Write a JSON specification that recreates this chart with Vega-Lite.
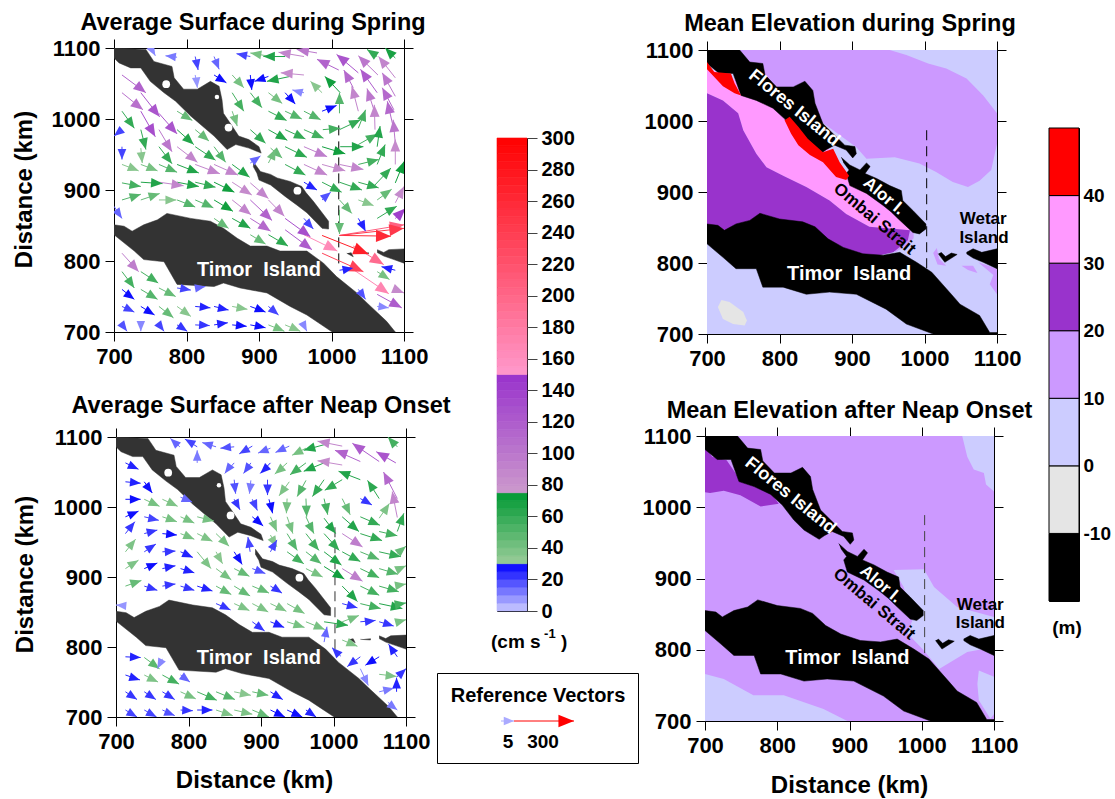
{"$schema":"https://vega.github.io/schema/vega-lite/v6.json","autosize":"none","padding":{"left":114,"top":48,"right":1001,"bottom":751},"background":"white","bounds":"flush","spacing":0,
"config":{"view":{"stroke":null},"font":"Liberation Sans","axis":{"grid":false,"domainColor":"black","tickColor":"black","tickSize":9,"labelFont":"Liberation Sans","labelFontWeight":"bold","labelFontSize":22,"labelColor":"black","labelPadding":5,"titleFont":"Liberation Sans","titleFontWeight":"bold","titleFontSize":24,"titleColor":"black","labelOverlap":false,"labelFlush":false,"format":"d","zindex":1},"title":{"font":"Liberation Sans","fontWeight":"bold","fontSize":23.5,"color":"black"}},
"datasets":{
"landA":[{"p":"F","o":1,"x":700,"y":1100},{"p":"F","o":2,"x":744,"y":1098},{"p":"F","o":3,"x":755,"y":1081},{"p":"F","o":4,"x":780,"y":1074},{"p":"F","o":5,"x":783,"y":1058},{"p":"F","o":6,"x":796,"y":1042},{"p":"F","o":7,"x":815,"y":1042},{"p":"F","o":8,"x":833,"y":1053},{"p":"F","o":9,"x":845,"y":1046},{"p":"F","o":10,"x":849,"y":1027},{"p":"F","o":11,"x":851,"y":1008},{"p":"F","o":12,"x":863,"y":990},{"p":"F","o":13,"x":872,"y":976},{"p":"F","o":14,"x":886,"y":971},{"p":"F","o":15,"x":900,"y":961},{"p":"F","o":16,"x":903,"y":952},{"p":"F","o":17,"x":886,"y":959},{"p":"F","o":18,"x":868,"y":964},{"p":"F","o":19,"x":856,"y":957},{"p":"F","o":20,"x":838,"y":976},{"p":"F","o":21,"x":806,"y":1004},{"p":"F","o":22,"x":785,"y":1025},{"p":"F","o":23,"x":769,"y":1037},{"p":"F","o":24,"x":750,"y":1053},{"p":"F","o":25,"x":737,"y":1072},{"p":"F","o":26,"x":723,"y":1072},{"p":"F","o":27,"x":707,"y":1079},{"p":"F","o":28,"x":700,"y":1086},
{"p":"L","o":1,"x":892,"y":940},{"p":"L","o":2,"x":902,"y":926},{"p":"L","o":3,"x":916,"y":922},{"p":"L","o":4,"x":925,"y":917},{"p":"L","o":5,"x":943,"y":912},{"p":"L","o":6,"x":959,"y":905},{"p":"L","o":7,"x":965,"y":896},{"p":"L","o":8,"x":975,"y":884},{"p":"L","o":9,"x":996,"y":856},{"p":"L","o":10,"x":996,"y":845},{"p":"L","o":11,"x":987,"y":846},{"p":"L","o":12,"x":966,"y":868},{"p":"L","o":13,"x":952,"y":879},{"p":"L","o":14,"x":936,"y":891},{"p":"L","o":15,"x":916,"y":907},{"p":"L","o":16,"x":900,"y":914},{"p":"L","o":17,"x":897,"y":924},{"p":"L","o":18,"x":892,"y":933},
{"p":"T","o":1,"x":700,"y":851},{"p":"T","o":2,"x":714,"y":849},{"p":"T","o":3,"x":725,"y":842},{"p":"T","o":4,"x":741,"y":851},{"p":"T","o":5,"x":760,"y":858},{"p":"T","o":6,"x":773,"y":867},{"p":"T","o":7,"x":806,"y":860},{"p":"T","o":8,"x":833,"y":856},{"p":"T","o":9,"x":851,"y":846},{"p":"T","o":10,"x":870,"y":832},{"p":"T","o":11,"x":888,"y":821},{"p":"T","o":12,"x":911,"y":821},{"p":"T","o":13,"x":929,"y":814},{"p":"T","o":14,"x":966,"y":814},{"p":"T","o":15,"x":989,"y":797},{"p":"T","o":16,"x":1007,"y":778},{"p":"T","o":17,"x":1035,"y":755},{"p":"T","o":18,"x":1049,"y":741},{"p":"T","o":19,"x":1076,"y":715},{"p":"T","o":20,"x":1088,"y":700},{"p":"T","o":21,"x":1001,"y":700},{"p":"T","o":22,"x":982,"y":713},{"p":"T","o":23,"x":966,"y":724},{"p":"T","o":24,"x":943,"y":736},{"p":"T","o":25,"x":911,"y":755},{"p":"T","o":26,"x":874,"y":762},{"p":"T","o":27,"x":851,"y":769},{"p":"T","o":28,"x":838,"y":764},{"p":"T","o":29,"x":787,"y":767},{"p":"T","o":30,"x":769,"y":799},{"p":"T","o":31,"x":741,"y":802},{"p":"T","o":32,"x":728,"y":814},{"p":"T","o":33,"x":700,"y":837},
{"p":"W","o":1,"x":1063,"y":816},{"p":"W","o":2,"x":1072,"y":812},{"p":"W","o":3,"x":1079,"y":816},{"p":"W","o":4,"x":1100,"y":817},{"p":"W","o":5,"x":1100,"y":797},{"p":"W","o":6,"x":1086,"y":802},{"p":"W","o":7,"x":1072,"y":807},{"p":"W","o":8,"x":1063,"y":812},
{"p":"S","o":1,"x":1021,"y":811},{"p":"S","o":2,"x":1030,"y":806},{"p":"S","o":3,"x":1027,"y":812},
{"p":"U","o":1,"x":1037,"y":811},{"p":"U","o":2,"x":1051,"y":810},{"p":"U","o":3,"x":1051,"y":812}],
"holes":[{"x":772,"y":1049},{"x":858,"y":988},{"x":953,"y":899}],
"holesSmall":[{"x":842,"y":1031}],
"landE":[{"p":"F","o":1,"x":700,"y":1100},{"p":"F","o":2,"x":745,"y":1100},{"p":"F","o":3,"x":759,"y":1083},{"p":"F","o":4,"x":777,"y":1081},{"p":"F","o":5,"x":780,"y":1065},{"p":"F","o":6,"x":796,"y":1048},{"p":"F","o":7,"x":819,"y":1048},{"p":"F","o":8,"x":835,"y":1056},{"p":"F","o":9,"x":846,"y":1043},{"p":"F","o":10,"x":849,"y":1025},{"p":"F","o":11,"x":860,"y":996},{"p":"F","o":12,"x":874,"y":982},{"p":"F","o":13,"x":890,"y":966},{"p":"F","o":14,"x":904,"y":964},{"p":"F","o":15,"x":906,"y":954},{"p":"F","o":16,"x":901,"y":948},{"p":"F","o":17,"x":892,"y":959},{"p":"F","o":18,"x":876,"y":966},{"p":"F","o":19,"x":865,"y":960},{"p":"F","o":20,"x":858,"y":955},{"p":"F","o":21,"x":837,"y":968},{"p":"F","o":22,"x":823,"y":982},{"p":"F","o":23,"x":807,"y":1003},{"p":"F","o":24,"x":791,"y":1018},{"p":"F","o":25,"x":768,"y":1029},{"p":"F","o":26,"x":747,"y":1036},{"p":"F","o":27,"x":736,"y":1067},{"p":"F","o":28,"x":717,"y":1067},{"p":"F","o":29,"x":700,"y":1081},
{"p":"L","o":1,"x":885,"y":949},{"p":"L","o":2,"x":897,"y":938},{"p":"L","o":3,"x":911,"y":931},{"p":"L","o":4,"x":920,"y":941},{"p":"L","o":5,"x":925,"y":936},{"p":"L","o":6,"x":918,"y":926},{"p":"L","o":7,"x":934,"y":919},{"p":"L","o":8,"x":952,"y":909},{"p":"L","o":9,"x":968,"y":902},{"p":"L","o":10,"x":970,"y":888},{"p":"L","o":11,"x":984,"y":874},{"p":"L","o":12,"x":1002,"y":855},{"p":"L","o":13,"x":1002,"y":848},{"p":"L","o":14,"x":993,"y":841},{"p":"L","o":15,"x":984,"y":843},{"p":"L","o":16,"x":964,"y":862},{"p":"L","o":17,"x":954,"y":872},{"p":"L","o":18,"x":943,"y":881},{"p":"L","o":19,"x":920,"y":898},{"p":"L","o":20,"x":897,"y":909},{"p":"L","o":21,"x":892,"y":926},{"p":"L","o":22,"x":896,"y":931},{"p":"L","o":23,"x":888,"y":942},
{"p":"T","o":1,"x":700,"y":855},{"p":"T","o":2,"x":715,"y":853},{"p":"T","o":3,"x":724,"y":846},{"p":"T","o":4,"x":740,"y":855},{"p":"T","o":5,"x":759,"y":860},{"p":"T","o":6,"x":773,"y":870},{"p":"T","o":7,"x":800,"y":862},{"p":"T","o":8,"x":832,"y":858},{"p":"T","o":9,"x":849,"y":851},{"p":"T","o":10,"x":867,"y":834},{"p":"T","o":11,"x":888,"y":822},{"p":"T","o":12,"x":915,"y":813},{"p":"T","o":13,"x":943,"y":811},{"p":"T","o":14,"x":966,"y":815},{"p":"T","o":15,"x":989,"y":801},{"p":"T","o":16,"x":1010,"y":787},{"p":"T","o":17,"x":1037,"y":756},{"p":"T","o":18,"x":1049,"y":742},{"p":"T","o":19,"x":1076,"y":726},{"p":"T","o":20,"x":1090,"y":702},{"p":"T","o":21,"x":1100,"y":702},{"p":"T","o":22,"x":1100,"y":700},{"p":"T","o":23,"x":1012,"y":700},{"p":"T","o":24,"x":975,"y":714},{"p":"T","o":25,"x":947,"y":735},{"p":"T","o":26,"x":906,"y":756},{"p":"T","o":27,"x":869,"y":759},{"p":"T","o":28,"x":837,"y":756},{"p":"T","o":29,"x":805,"y":766},{"p":"T","o":30,"x":777,"y":766},{"p":"T","o":31,"x":768,"y":792},{"p":"T","o":32,"x":740,"y":792},{"p":"T","o":33,"x":722,"y":808},{"p":"T","o":34,"x":700,"y":827},
{"p":"W","o":1,"x":1058,"y":815},{"p":"W","o":2,"x":1067,"y":820},{"p":"W","o":3,"x":1079,"y":815},{"p":"W","o":4,"x":1100,"y":820},{"p":"W","o":5,"x":1100,"y":792},{"p":"W","o":6,"x":1081,"y":801},{"p":"W","o":7,"x":1067,"y":807},{"p":"W","o":8,"x":1058,"y":813},
{"p":"V","o":1,"x":1019,"y":813},{"p":"V","o":2,"x":1028,"y":801},{"p":"V","o":3,"x":1045,"y":812},{"p":"V","o":4,"x":1037,"y":814},{"p":"V","o":5,"x":1029,"y":809},{"p":"V","o":6,"x":1023,"y":815}],
"bandB":[{"p":1,"l":5,"o":1,"x":700,"y":700},{"p":1,"l":5,"o":2,"x":1100,"y":700},{"p":1,"l":5,"o":3,"x":1100,"y":1100},{"p":1,"l":5,"o":4,"x":700,"y":1100},
{"p":2,"l":15,"o":1,"x":745,"y":1100},{"p":2,"l":15,"o":2,"x":952,"y":1100},{"p":2,"l":15,"o":3,"x":975,"y":1093},{"p":2,"l":15,"o":4,"x":1005,"y":1081},{"p":2,"l":15,"o":5,"x":1030,"y":1074},{"p":2,"l":15,"o":6,"x":1058,"y":1060},{"p":2,"l":15,"o":7,"x":1081,"y":1036},{"p":2,"l":15,"o":8,"x":1100,"y":1011},{"p":2,"l":15,"o":9,"x":1100,"y":968},{"p":2,"l":15,"o":10,"x":1092,"y":931},{"p":2,"l":15,"o":11,"x":1076,"y":916},{"p":2,"l":15,"o":12,"x":1060,"y":907},{"p":2,"l":15,"o":13,"x":1039,"y":914},{"p":2,"l":15,"o":14,"x":1016,"y":928},{"p":2,"l":15,"o":15,"x":993,"y":940},{"p":2,"l":15,"o":16,"x":959,"y":949},{"p":2,"l":15,"o":17,"x":920,"y":947},{"p":2,"l":15,"o":18,"x":906,"y":963},{"p":2,"l":15,"o":19,"x":874,"y":987},{"p":2,"l":15,"o":20,"x":745,"y":1081},
{"p":3,"l":15,"o":1,"x":964,"y":862},{"p":3,"l":15,"o":2,"x":985,"y":845},{"p":3,"l":15,"o":3,"x":985,"y":835},{"p":3,"l":15,"o":4,"x":975,"y":825},{"p":3,"l":15,"o":5,"x":960,"y":815},{"p":3,"l":15,"o":6,"x":950,"y":830},
{"p":4,"l":15,"o":1,"x":1012,"y":814},{"p":4,"l":15,"o":2,"x":1017,"y":821},{"p":4,"l":15,"o":3,"x":1020,"y":806},{"p":4,"l":15,"o":4,"x":1030,"y":796},{"p":4,"l":15,"o":5,"x":1018,"y":798},
{"p":5,"l":15,"o":1,"x":1051,"y":796},{"p":5,"l":15,"o":2,"x":1067,"y":796},{"p":5,"l":15,"o":3,"x":1073,"y":786},{"p":5,"l":15,"o":4,"x":1060,"y":790},
{"p":6,"l":15,"o":1,"x":1074,"y":801},{"p":6,"l":15,"o":2,"x":1100,"y":792},{"p":6,"l":15,"o":3,"x":1100,"y":756},{"p":6,"l":15,"o":4,"x":1090,"y":770},{"p":6,"l":15,"o":5,"x":1095,"y":783},
{"p":7,"l":-5,"o":1,"x":715,"y":738},{"p":7,"l":-5,"o":2,"x":720,"y":748},{"p":7,"l":-5,"o":3,"x":731,"y":745},{"p":7,"l":-5,"o":4,"x":750,"y":731},{"p":7,"l":-5,"o":5,"x":755,"y":719},{"p":7,"l":-5,"o":6,"x":752,"y":712},{"p":7,"l":-5,"o":7,"x":736,"y":714},{"p":7,"l":-5,"o":8,"x":722,"y":721},
{"p":8,"l":35,"o":1,"x":700,"y":1075},{"p":8,"l":35,"o":2,"x":800,"y":1030},{"p":8,"l":35,"o":3,"x":860,"y":970},{"p":8,"l":35,"o":4,"x":895,"y":925},{"p":8,"l":35,"o":5,"x":943,"y":886},{"p":8,"l":35,"o":6,"x":985,"y":848},{"p":8,"l":35,"o":7,"x":980,"y":846},{"p":8,"l":35,"o":8,"x":924,"y":851},{"p":8,"l":35,"o":9,"x":892,"y":869},{"p":8,"l":35,"o":10,"x":869,"y":888},{"p":8,"l":35,"o":11,"x":837,"y":907},{"p":8,"l":35,"o":12,"x":805,"y":923},{"p":8,"l":35,"o":13,"x":782,"y":935},{"p":8,"l":35,"o":14,"x":768,"y":954},{"p":8,"l":35,"o":15,"x":750,"y":987},{"p":8,"l":35,"o":16,"x":743,"y":1011},{"p":8,"l":35,"o":17,"x":722,"y":1029},{"p":8,"l":35,"o":18,"x":700,"y":1039},
{"p":9,"l":25,"o":1,"x":700,"y":1039},{"p":9,"l":25,"o":2,"x":722,"y":1029},{"p":9,"l":25,"o":3,"x":743,"y":1011},{"p":9,"l":25,"o":4,"x":750,"y":987},{"p":9,"l":25,"o":5,"x":768,"y":954},{"p":9,"l":25,"o":6,"x":782,"y":935},{"p":9,"l":25,"o":7,"x":805,"y":923},{"p":9,"l":25,"o":8,"x":837,"y":907},{"p":9,"l":25,"o":9,"x":869,"y":888},{"p":9,"l":25,"o":10,"x":892,"y":869},{"p":9,"l":25,"o":11,"x":924,"y":851},{"p":9,"l":25,"o":12,"x":980,"y":846},{"p":9,"l":25,"o":13,"x":977,"y":832},{"p":9,"l":25,"o":14,"x":957,"y":815},{"p":9,"l":25,"o":15,"x":934,"y":810},{"p":9,"l":25,"o":16,"x":900,"y":800},{"p":9,"l":25,"o":17,"x":700,"y":830}],
"redB":[{"p":1,"l":45,"o":1,"x":700,"y":1083},{"p":1,"l":45,"o":2,"x":710,"y":1069},{"p":1,"l":45,"o":3,"x":733,"y":1067},{"p":1,"l":45,"o":4,"x":738,"y":1053},{"p":1,"l":45,"o":5,"x":747,"y":1036},{"p":1,"l":45,"o":6,"x":738,"y":1039},{"p":1,"l":45,"o":7,"x":722,"y":1049},{"p":1,"l":45,"o":8,"x":700,"y":1073},
{"p":2,"l":45,"o":1,"x":807,"y":1001},{"p":2,"l":45,"o":2,"x":814,"y":1006},{"p":2,"l":45,"o":3,"x":826,"y":992},{"p":2,"l":45,"o":4,"x":839,"y":975},{"p":2,"l":45,"o":5,"x":860,"y":956},{"p":2,"l":45,"o":6,"x":874,"y":961},{"p":2,"l":45,"o":7,"x":883,"y":942},{"p":2,"l":45,"o":8,"x":896,"y":923},{"p":2,"l":45,"o":9,"x":892,"y":917},{"p":2,"l":45,"o":10,"x":878,"y":921},{"p":2,"l":45,"o":11,"x":860,"y":942},{"p":2,"l":45,"o":12,"x":842,"y":952},{"p":2,"l":45,"o":13,"x":826,"y":966},{"p":2,"l":45,"o":14,"x":816,"y":982}],
"bandD":[{"p":1,"l":15,"o":1,"x":700,"y":700},{"p":1,"l":15,"o":2,"x":1100,"y":700},{"p":1,"l":15,"o":3,"x":1100,"y":1100},{"p":1,"l":15,"o":4,"x":700,"y":1100},
{"p":2,"l":5,"o":1,"x":1056,"y":1100},{"p":2,"l":5,"o":2,"x":1100,"y":1100},{"p":2,"l":5,"o":3,"x":1100,"y":1022},{"p":2,"l":5,"o":4,"x":1089,"y":1032},{"p":2,"l":5,"o":5,"x":1086,"y":1048},{"p":2,"l":5,"o":6,"x":1072,"y":1053},{"p":2,"l":5,"o":7,"x":1063,"y":1071},
{"p":3,"l":5,"o":1,"x":961,"y":912},{"p":3,"l":5,"o":2,"x":1003,"y":913},{"p":3,"l":5,"o":3,"x":1017,"y":888},{"p":3,"l":5,"o":4,"x":1049,"y":860},{"p":3,"l":5,"o":5,"x":1100,"y":846},{"p":3,"l":5,"o":6,"x":1100,"y":804},{"p":3,"l":5,"o":7,"x":1063,"y":797},{"p":3,"l":5,"o":8,"x":1024,"y":773},{"p":3,"l":5,"o":9,"x":1003,"y":799},{"p":3,"l":5,"o":10,"x":980,"y":823},{"p":3,"l":5,"o":11,"x":987,"y":841},{"p":3,"l":5,"o":12,"x":975,"y":888},
{"p":4,"l":5,"o":1,"x":1077,"y":752},{"p":4,"l":5,"o":2,"x":1079,"y":771},{"p":4,"l":5,"o":3,"x":1100,"y":762},{"p":4,"l":5,"o":4,"x":1100,"y":710},{"p":4,"l":5,"o":5,"x":1095,"y":703},{"p":4,"l":5,"o":6,"x":1079,"y":729},
{"p":5,"l":5,"o":1,"x":700,"y":766},{"p":5,"l":5,"o":2,"x":726,"y":759},{"p":5,"l":5,"o":3,"x":767,"y":736},{"p":5,"l":5,"o":4,"x":809,"y":736},{"p":5,"l":5,"o":5,"x":864,"y":717},{"p":5,"l":5,"o":6,"x":897,"y":700},{"p":5,"l":5,"o":7,"x":700,"y":700},
{"p":6,"l":25,"o":1,"x":700,"y":1085},{"p":6,"l":25,"o":2,"x":710,"y":1071},{"p":6,"l":25,"o":3,"x":730,"y":1066},{"p":6,"l":25,"o":4,"x":749,"y":1038},{"p":6,"l":25,"o":5,"x":772,"y":1031},{"p":6,"l":25,"o":6,"x":793,"y":1018},{"p":6,"l":25,"o":7,"x":802,"y":1005},{"p":6,"l":25,"o":8,"x":777,"y":1001},{"p":6,"l":25,"o":9,"x":749,"y":1017},{"p":6,"l":25,"o":10,"x":726,"y":1023},{"p":6,"l":25,"o":11,"x":707,"y":1020},{"p":6,"l":25,"o":12,"x":700,"y":1021}],
"arrowsA":[{"x":753,"y":1098,"a":757,"b":1089,"d":151,"s":10},{"x":787,"y":1087,"a":771,"b":1089,"d":277,"s":12},{"x":888,"y":1088,"a":869,"b":1092,"d":281,"s":20},{"x":916,"y":1088,"a":888,"b":1093,"d":280,"s":40},{"x":936,"y":1088,"a":906,"b":1088,"d":270,"s":65},{"x":962,"y":1088,"a":927,"b":1094,"d":279,"s":90},{"x":980,"y":1093,"a":952,"b":1098,"d":280,"s":100},{"x":1010,"y":1069,"a":980,"b":1084,"d":296,"s":115},{"x":1037,"y":1065,"a":1007,"b":1091,"d":309,"s":125},{"x":1064,"y":1062,"a":1037,"b":1089,"d":315,"s":100},{"x":1088,"y":1058,"a":1065,"b":1088,"d":322,"s":90},{"x":1063,"y":1088,"a":1049,"b":1098,"d":304,"s":60},{"x":1088,"y":1086,"a":1074,"b":1100,"d":315,"s":68},
{"x":812,"y":1088,"a":816,"b":1069,"d":169,"s":20},{"x":838,"y":1088,"a":845,"b":1070,"d":158,"s":15},{"x":812,"y":1062,"a":815,"b":1044,"d":173,"s":8},{"x":838,"y":1062,"a":855,"b":1051,"d":121,"s":28},{"x":863,"y":1062,"a":879,"b":1044,"d":139,"s":40},{"x":888,"y":1062,"a":890,"b":1041,"d":174,"s":28},{"x":913,"y":1060,"a":894,"b":1053,"d":251,"s":28},{"x":962,"y":1062,"a":930,"b":1065,"d":274,"s":85},{"x":943,"y":1060,"a":911,"b":1053,"d":258,"s":65},{"x":1030,"y":1044,"a":1017,"b":1069,"d":331,"s":110},{"x":1063,"y":1037,"a":1040,"b":1070,"d":325,"s":120},{"x":1088,"y":1032,"a":1070,"b":1065,"d":330,"s":100},
{"x":962,"y":1037,"a":946,"b":1041,"d":286,"s":10},{"x":987,"y":1037,"a":971,"b":1053,"d":315,"s":35},{"x":1012,"y":1037,"a":991,"b":1060,"d":318,"s":70},{"x":1037,"y":1011,"a":1028,"b":1046,"d":345,"s":90},{"x":1060,"y":1008,"a":1049,"b":1043,"d":342,"s":100},{"x":1086,"y":1013,"a":1070,"b":1044,"d":332,"s":110},{"x":863,"y":1037,"a":879,"b":1011,"d":148,"s":55},{"x":888,"y":1037,"a":904,"b":1016,"d":142,"s":55},{"x":913,"y":1037,"a":932,"b":1022,"d":129,"s":40},{"x":936,"y":1037,"a":950,"b":1021,"d":139,"s":28},{"x":987,"y":1011,"a":1007,"b":1019,"d":68,"s":28},{"x":1011,"y":1008,"a":1011,"b":1037,"d":0,"s":50},
{"x":711,"y":1062,"a":744,"b":1037,"d":128,"s":115},{"x":737,"y":1037,"a":763,"b":1003,"d":141,"s":125},{"x":711,"y":1037,"a":740,"b":1013,"d":128,"s":105},{"x":762,"y":1008,"a":787,"b":979,"d":138,"s":125},{"x":737,"y":1011,"a":757,"b":975,"d":150,"s":130},{"x":711,"y":1011,"a":728,"b":987,"d":145,"s":60},{"x":787,"y":1011,"a":808,"b":998,"d":121,"s":45},{"x":863,"y":1011,"a":870,"b":990,"d":162,"s":40},{"x":913,"y":1011,"a":938,"b":998,"d":117,"s":60},{"x":936,"y":1011,"a":959,"b":1000,"d":115,"s":50},{"x":962,"y":1011,"a":985,"b":999,"d":117,"s":50},{"x":1011,"y":985,"a":1040,"b":999,"d":64,"s":60},{"x":1037,"y":987,"a":1047,"b":1013,"d":20,"s":55},{"x":1060,"y":985,"a":1059,"b":1020,"d":358,"s":90},{"x":1086,"y":985,"a":1077,"b":1025,"d":348,"s":110},{"x":1088,"y":966,"a":1085,"b":999,"d":354,"s":100},{"x":1088,"y":936,"a":1088,"b":971,"d":0,"s":85},
{"x":737,"y":985,"a":744,"b":957,"d":166,"s":60},{"x":711,"y":961,"a":711,"b":943,"d":180,"s":20},{"x":711,"y":985,"a":700,"b":976,"d":231,"s":20},{"x":762,"y":985,"a":780,"b":954,"d":148,"s":100},{"x":787,"y":985,"a":810,"b":964,"d":132,"s":65},{"x":812,"y":985,"a":831,"b":969,"d":131,"s":45},{"x":888,"y":985,"a":909,"b":966,"d":132,"s":60},{"x":913,"y":985,"a":939,"b":970,"d":120,"s":65},{"x":936,"y":985,"a":964,"b":972,"d":115,"s":60},{"x":962,"y":985,"a":989,"b":973,"d":113,"s":55},{"x":988,"y":985,"a":1012,"b":987,"d":84,"s":55},{"x":1012,"y":961,"a":1044,"b":961,"d":90,"s":65},{"x":1037,"y":964,"a":1063,"b":979,"d":59,"s":55},{"x":1063,"y":961,"a":1067,"b":990,"d":9,"s":65},{"x":1063,"y":936,"a":1074,"b":964,"d":23,"s":60},
{"x":737,"y":959,"a":739,"b":938,"d":174,"s":35},{"x":762,"y":961,"a":780,"b":937,"d":142,"s":60},{"x":787,"y":961,"a":815,"b":939,"d":129,"s":90},{"x":812,"y":961,"a":840,"b":942,"d":125,"s":60},{"x":838,"y":961,"a":854,"b":939,"d":143,"s":50},{"x":936,"y":961,"a":966,"b":946,"d":115,"s":62},{"x":962,"y":961,"a":994,"b":947,"d":112,"s":95},{"x":987,"y":961,"a":1019,"b":951,"d":106,"s":70},{"x":916,"y":959,"a":932,"b":945,"d":131,"s":45},{"x":913,"y":938,"a":923,"b":958,"d":25,"s":42},{"x":888,"y":938,"a":902,"b":948,"d":54,"s":15},
{"x":711,"y":936,"a":734,"b":927,"d":112,"s":35},{"x":737,"y":936,"a":760,"b":927,"d":112,"s":40},{"x":762,"y":936,"a":787,"b":925,"d":113,"s":50},{"x":787,"y":936,"a":817,"b":924,"d":111,"s":65},{"x":812,"y":936,"a":846,"b":923,"d":110,"s":90},{"x":838,"y":936,"a":871,"b":921,"d":114,"s":90},{"x":863,"y":936,"a":887,"b":918,"d":127,"s":65},{"x":936,"y":936,"a":964,"b":921,"d":118,"s":60},{"x":962,"y":936,"a":994,"b":921,"d":115,"s":90},{"x":987,"y":936,"a":1019,"b":927,"d":106,"s":85},{"x":1011,"y":936,"a":1044,"b":929,"d":102,"s":90},{"x":1037,"y":936,"a":1065,"b":943,"d":76,"s":55},{"x":1058,"y":905,"a":1082,"b":931,"d":43,"s":60},{"x":1088,"y":910,"a":1100,"b":940,"d":21,"s":70},
{"x":711,"y":910,"a":737,"b":905,"d":100,"s":55},{"x":737,"y":911,"a":767,"b":909,"d":94,"s":65},{"x":762,"y":911,"a":796,"b":906,"d":98,"s":90},{"x":787,"y":911,"a":817,"b":905,"d":100,"s":65},{"x":812,"y":911,"a":840,"b":904,"d":103,"s":60},{"x":838,"y":911,"a":866,"b":897,"d":116,"s":70},{"x":863,"y":911,"a":890,"b":893,"d":123,"s":85},{"x":888,"y":910,"a":913,"b":888,"d":130,"s":90},{"x":962,"y":911,"a":980,"b":900,"d":119,"s":25},{"x":987,"y":911,"a":1014,"b":897,"d":116,"s":60},{"x":1011,"y":911,"a":1042,"b":900,"d":110,"s":60},{"x":1037,"y":911,"a":1065,"b":903,"d":106,"s":60},{"x":1063,"y":886,"a":1083,"b":901,"d":55,"s":45},{"x":1088,"y":882,"a":1100,"b":905,"d":27,"s":85},{"x":987,"y":886,"a":999,"b":897,"d":50,"s":18},
{"x":711,"y":886,"a":737,"b":894,"d":73,"s":50},{"x":737,"y":886,"a":763,"b":895,"d":73,"s":45},{"x":762,"y":886,"a":786,"b":886,"d":90,"s":35},{"x":787,"y":886,"a":812,"b":876,"d":113,"s":50},{"x":812,"y":886,"a":837,"b":875,"d":115,"s":50},{"x":838,"y":886,"a":864,"b":870,"d":122,"s":70},{"x":863,"y":886,"a":889,"b":865,"d":128,"s":90},{"x":888,"y":886,"a":918,"b":857,"d":134,"s":115},{"x":913,"y":886,"a":935,"b":863,"d":137,"s":90},{"x":1011,"y":886,"a":1028,"b":867,"d":139,"s":45},{"x":1037,"y":886,"a":1058,"b":878,"d":111,"s":35},{"x":1063,"y":860,"a":1090,"b":877,"d":60,"s":60},{"x":1088,"y":860,"a":1102,"b":874,"d":45,"s":140},
{"x":700,"y":877,"a":711,"b":860,"d":145,"s":15},{"x":838,"y":860,"a":858,"b":846,"d":124,"s":45},{"x":863,"y":860,"a":888,"b":846,"d":120,"s":65},{"x":888,"y":860,"a":916,"b":842,"d":124,"s":110},{"x":936,"y":860,"a":971,"b":834,"d":127,"s":130},{"x":962,"y":860,"a":975,"b":845,"d":137,"s":20},{"x":1011,"y":872,"a":1011,"b":838,"d":180,"s":45},{"x":1037,"y":860,"a":1047,"b":842,"d":153,"s":25},{"x":1011,"y":836,"a":1082,"b":835,"d":91,"s":260},{"x":1011,"y":836,"a":1100,"b":851,"d":80,"s":205},{"x":1011,"y":836,"a":1100,"b":846,"d":83,"s":245},
{"x":888,"y":837,"a":909,"b":824,"d":121,"s":45},{"x":913,"y":837,"a":940,"b":821,"d":122,"s":62},{"x":936,"y":844,"a":973,"b":816,"d":127,"s":120},{"x":962,"y":837,"a":1008,"b":814,"d":117,"s":165},{"x":987,"y":836,"a":1051,"b":810,"d":111,"s":270},{"x":987,"y":811,"a":1044,"b":785,"d":114,"s":235},{"x":1030,"y":821,"a":1072,"b":795,"d":121,"s":195},{"x":1088,"y":787,"a":1069,"b":792,"d":284,"s":25},{"x":1011,"y":787,"a":1030,"b":790,"d":80,"s":25},{"x":1063,"y":785,"a":1080,"b":774,"d":123,"s":40},
{"x":711,"y":811,"a":734,"b":785,"d":138,"s":95},{"x":711,"y":785,"a":728,"b":762,"d":145,"s":55},{"x":737,"y":785,"a":761,"b":769,"d":124,"s":55},{"x":762,"y":762,"a":785,"b":750,"d":117,"s":45},{"x":711,"y":760,"a":728,"b":746,"d":127,"s":28},{"x":737,"y":760,"a":760,"b":746,"d":121,"s":50},{"x":787,"y":762,"a":806,"b":759,"d":100,"s":20},{"x":812,"y":762,"a":826,"b":764,"d":80,"s":15},{"x":1030,"y":788,"a":1079,"b":754,"d":125,"s":170},{"x":1037,"y":760,"a":1047,"b":746,"d":145,"s":18},{"x":1063,"y":753,"a":1097,"b":734,"d":118,"s":120},{"x":1063,"y":736,"a":1079,"b":734,"d":98,"s":10},{"x":1088,"y":760,"a":1100,"b":755,"d":112,"s":85},
{"x":711,"y":736,"a":728,"b":728,"d":116,"s":20},{"x":737,"y":736,"a":756,"b":724,"d":121,"s":28},{"x":762,"y":736,"a":782,"b":720,"d":129,"s":45},{"x":787,"y":736,"a":806,"b":722,"d":126,"s":35},{"x":812,"y":736,"a":833,"b":734,"d":96,"s":25},{"x":838,"y":736,"a":858,"b":731,"d":102,"s":25},{"x":863,"y":736,"a":884,"b":732,"d":100,"s":35},{"x":888,"y":736,"a":909,"b":728,"d":112,"s":28},{"x":913,"y":736,"a":927,"b":724,"d":130,"s":20},{"x":711,"y":710,"a":718,"b":701,"d":143,"s":18},{"x":737,"y":710,"a":737,"b":701,"d":180,"s":10},{"x":762,"y":710,"a":769,"b":701,"d":143,"s":20},{"x":787,"y":710,"a":801,"b":701,"d":124,"s":22},{"x":812,"y":710,"a":832,"b":709,"d":94,"s":22},{"x":838,"y":710,"a":857,"b":713,"d":83,"s":25},{"x":863,"y":710,"a":883,"b":708,"d":97,"s":28},{"x":888,"y":710,"a":909,"b":706,"d":102,"s":28},{"x":913,"y":710,"a":935,"b":701,"d":113,"s":40},{"x":936,"y":710,"a":957,"b":701,"d":114,"s":35},{"x":962,"y":710,"a":966,"b":701,"d":153,"s":10}],
"arrowsC":[{"x":788,"y":1086,"a":775,"b":1098,"d":313,"s":15},{"x":812,"y":1086,"a":795,"b":1097,"d":300,"s":20},{"x":838,"y":1086,"a":819,"b":1092,"d":287,"s":15},{"x":863,"y":1086,"a":844,"b":1084,"d":263,"s":18},{"x":888,"y":1087,"a":870,"b":1076,"d":240,"s":20},{"x":913,"y":1084,"a":896,"b":1077,"d":248,"s":15},{"x":939,"y":1087,"a":920,"b":1078,"d":245,"s":15},{"x":962,"y":1084,"a":943,"b":1074,"d":243,"s":40},{"x":987,"y":1089,"a":959,"b":1081,"d":254,"s":65},{"x":1012,"y":1087,"a":978,"b":1094,"d":280,"s":90},{"x":1063,"y":1065,"a":1026,"b":1091,"d":305,"s":120},{"x":1086,"y":1063,"a":1059,"b":1079,"d":300,"s":125},{"x":1088,"y":1086,"a":1075,"b":1100,"d":317,"s":55},{"x":1037,"y":1065,"a":1002,"b":1081,"d":290,"s":115},{"x":1012,"y":1060,"a":978,"b":1066,"d":277,"s":85},
{"x":812,"y":1063,"a":812,"b":1081,"d":0,"s":12},{"x":863,"y":1063,"a":850,"b":1048,"d":217,"s":15},{"x":886,"y":1063,"a":876,"b":1048,"d":216,"s":18},{"x":913,"y":1063,"a":899,"b":1048,"d":227,"s":25},{"x":936,"y":1063,"a":919,"b":1047,"d":230,"s":40},{"x":962,"y":1063,"a":940,"b":1046,"d":233,"s":55},{"x":987,"y":1063,"a":959,"b":1051,"d":247,"s":65},
{"x":863,"y":1039,"a":865,"b":1019,"d":173,"s":18},{"x":886,"y":1038,"a":884,"b":1019,"d":187,"s":12},{"x":909,"y":1039,"a":909,"b":1017,"d":180,"s":22},{"x":939,"y":1036,"a":925,"b":1016,"d":215,"s":38},{"x":962,"y":1038,"a":950,"b":1015,"d":208,"s":50},{"x":987,"y":1039,"a":971,"b":1015,"d":215,"s":60},{"x":1012,"y":1039,"a":988,"b":1024,"d":240,"s":60},{"x":1037,"y":1039,"a":1007,"b":1051,"d":291,"s":65},{"x":1063,"y":1012,"a":1047,"b":1038,"d":327,"s":62},{"x":1088,"y":1012,"a":1069,"b":1050,"d":333,"s":110},{"x":1088,"y":985,"a":1081,"b":1022,"d":349,"s":90},
{"x":713,"y":1063,"a":731,"b":1054,"d":114,"s":25},{"x":713,"y":1036,"a":734,"b":1034,"d":96,"s":25},{"x":739,"y":1036,"a":750,"b":1020,"d":143,"s":28},{"x":713,"y":1011,"a":734,"b":1011,"d":90,"s":28},{"x":739,"y":1011,"a":760,"b":1001,"d":115,"s":40},{"x":764,"y":1011,"a":785,"b":1001,"d":115,"s":38},{"x":789,"y":1014,"a":805,"b":1007,"d":113,"s":15},{"x":863,"y":1011,"a":871,"b":996,"d":151,"s":22},{"x":888,"y":1011,"a":895,"b":995,"d":156,"s":20},{"x":911,"y":1011,"a":916,"b":991,"d":167,"s":28},{"x":936,"y":1012,"a":935,"b":991,"d":183,"s":40},{"x":962,"y":1012,"a":963,"b":986,"d":178,"s":50},{"x":987,"y":1012,"a":992,"b":989,"d":169,"s":55},{"x":1012,"y":1012,"a":1023,"b":989,"d":155,"s":45},{"x":1037,"y":1012,"a":1053,"b":1003,"d":120,"s":22},{"x":1063,"y":984,"a":1077,"b":1005,"d":33,"s":38},
{"x":713,"y":986,"a":731,"b":994,"d":66,"s":28},{"x":739,"y":986,"a":759,"b":981,"d":102,"s":20},{"x":764,"y":986,"a":784,"b":979,"d":109,"s":40},{"x":789,"y":986,"a":808,"b":977,"d":115,"s":40},{"x":812,"y":986,"a":835,"b":980,"d":103,"s":40},{"x":888,"y":986,"a":903,"b":973,"d":131,"s":28},{"x":913,"y":986,"a":922,"b":965,"d":156,"s":40},{"x":936,"y":986,"a":944,"b":962,"d":161,"s":40},{"x":962,"y":986,"a":973,"b":962,"d":153,"s":50},{"x":987,"y":984,"a":1003,"b":962,"d":142,"s":65},{"x":1012,"y":986,"a":1035,"b":965,"d":131,"s":65},{"x":1037,"y":986,"a":1064,"b":974,"d":113,"s":60},{"x":1088,"y":965,"a":1097,"b":991,"d":20,"s":60},
{"x":713,"y":962,"a":726,"b":979,"d":39,"s":22},{"x":739,"y":962,"a":757,"b":967,"d":76,"s":22},{"x":764,"y":962,"a":784,"b":960,"d":96,"s":28},{"x":789,"y":962,"a":808,"b":954,"d":113,"s":40},{"x":812,"y":962,"a":833,"b":951,"d":116,"s":38},{"x":838,"y":962,"a":856,"b":944,"d":134,"s":40},{"x":1012,"y":962,"a":1040,"b":943,"d":124,"s":95},{"x":1037,"y":962,"a":1067,"b":952,"d":109,"s":60},{"x":1063,"y":965,"a":1088,"b":959,"d":103,"s":55},{"x":913,"y":960,"a":922,"b":943,"d":150,"s":35},{"x":885,"y":936,"a":882,"b":957,"d":350,"s":20},{"x":913,"y":936,"a":922,"b":953,"d":30,"s":20},
{"x":713,"y":936,"a":727,"b":954,"d":39,"s":38},{"x":739,"y":936,"a":755,"b":947,"d":57,"s":22},{"x":764,"y":936,"a":782,"b":937,"d":86,"s":22},{"x":789,"y":936,"a":806,"b":928,"d":114,"s":25},{"x":812,"y":936,"a":831,"b":912,"d":141,"s":38},{"x":838,"y":936,"a":847,"b":919,"d":150,"s":35},{"x":863,"y":936,"a":874,"b":918,"d":148,"s":28},{"x":936,"y":962,"a":950,"b":938,"d":148,"s":50},{"x":962,"y":962,"a":980,"b":938,"d":140,"s":55},{"x":987,"y":962,"a":1008,"b":938,"d":137,"s":60},{"x":1012,"y":936,"a":1037,"b":922,"d":119,"s":60},{"x":1037,"y":936,"a":1063,"b":925,"d":113,"s":50},{"x":1063,"y":936,"a":1093,"b":929,"d":103,"s":60},{"x":1088,"y":934,"a":1100,"b":944,"d":50,"s":45},
{"x":713,"y":912,"a":731,"b":924,"d":58,"s":38},{"x":739,"y":912,"a":757,"b":920,"d":67,"s":28},{"x":764,"y":912,"a":782,"b":916,"d":80,"s":25},{"x":789,"y":912,"a":808,"b":906,"d":108,"s":25},{"x":838,"y":912,"a":859,"b":896,"d":126,"s":40},{"x":863,"y":912,"a":884,"b":901,"d":117,"s":45},{"x":888,"y":912,"a":906,"b":905,"d":111,"s":18},{"x":936,"y":936,"a":959,"b":919,"d":125,"s":55},{"x":962,"y":936,"a":983,"b":919,"d":128,"s":50},{"x":987,"y":936,"a":1011,"b":917,"d":127,"s":65},{"x":962,"y":912,"a":985,"b":900,"d":117,"s":40},{"x":987,"y":915,"a":1015,"b":897,"d":122,"s":70},{"x":1012,"y":912,"a":1040,"b":894,"d":122,"s":95},{"x":1037,"y":912,"a":1063,"b":899,"d":116,"s":55},{"x":1063,"y":912,"a":1089,"b":904,"d":106,"s":50},{"x":1088,"y":910,"a":1100,"b":916,"d":65,"s":40},
{"x":713,"y":887,"a":735,"b":895,"d":72,"s":45},{"x":739,"y":887,"a":757,"b":881,"d":108,"s":22},{"x":764,"y":887,"a":782,"b":890,"d":83,"s":22},{"x":789,"y":887,"a":808,"b":881,"d":108,"s":22},{"x":812,"y":887,"a":833,"b":880,"d":108,"s":25},{"x":838,"y":887,"a":859,"b":875,"d":118,"s":45},{"x":863,"y":887,"a":885,"b":873,"d":120,"s":45},{"x":888,"y":887,"a":911,"b":877,"d":115,"s":45},{"x":913,"y":887,"a":929,"b":877,"d":123,"s":22},{"x":1012,"y":887,"a":1033,"b":865,"d":137,"s":65},{"x":1037,"y":887,"a":1063,"b":874,"d":117,"s":55},{"x":1063,"y":887,"a":1090,"b":879,"d":107,"s":55},{"x":1088,"y":887,"a":1100,"b":890,"d":80,"s":40},
{"x":713,"y":858,"a":700,"b":860,"d":275,"s":8},{"x":838,"y":862,"a":858,"b":853,"d":115,"s":22},{"x":863,"y":862,"a":884,"b":852,"d":115,"s":38},{"x":888,"y":862,"a":910,"b":850,"d":119,"s":38},{"x":913,"y":862,"a":935,"b":851,"d":118,"s":38},{"x":936,"y":862,"a":960,"b":848,"d":120,"s":40},{"x":1012,"y":862,"a":1033,"b":856,"d":105,"s":22},{"x":1037,"y":862,"a":1065,"b":855,"d":104,"s":55},{"x":1063,"y":862,"a":1095,"b":855,"d":102,"s":65},{"x":1088,"y":861,"a":1100,"b":863,"d":80,"s":55},
{"x":888,"y":836,"a":905,"b":823,"d":126,"s":22},{"x":913,"y":836,"a":932,"b":828,"d":112,"s":25},{"x":936,"y":836,"a":960,"b":828,"d":108,"s":40},{"x":962,"y":836,"a":988,"b":825,"d":112,"s":40},{"x":987,"y":836,"a":1020,"b":831,"d":98,"s":62},{"x":1012,"y":836,"a":1035,"b":845,"d":68,"s":40},{"x":1037,"y":836,"a":1058,"b":838,"d":83,"s":22},{"x":1063,"y":836,"a":1083,"b":830,"d":107,"s":22},{"x":1088,"y":836,"a":1100,"b":839,"d":75,"s":40},{"x":987,"y":807,"a":991,"b":829,"d":10,"s":15},{"x":1012,"y":810,"a":1033,"b":801,"d":112,"s":38},
{"x":713,"y":786,"a":734,"b":785,"d":93,"s":25},{"x":739,"y":785,"a":760,"b":769,"d":126,"s":48},{"x":764,"y":783,"a":757,"b":769,"d":207,"s":10},{"x":1010,"y":787,"a":998,"b":799,"d":316,"s":22},{"x":1037,"y":786,"a":1019,"b":772,"d":232,"s":22},{"x":1063,"y":786,"a":1044,"b":774,"d":238,"s":28},{"x":1088,"y":786,"a":1076,"b":804,"d":327,"s":25},{"x":713,"y":760,"a":733,"b":753,"d":107,"s":25},{"x":739,"y":760,"a":758,"b":750,"d":115,"s":38},{"x":764,"y":760,"a":787,"b":747,"d":118,"s":55},{"x":789,"y":760,"a":802,"b":750,"d":126,"s":15},{"x":1037,"y":769,"a":1048,"b":745,"d":155,"s":10},{"x":1063,"y":761,"a":1087,"b":758,"d":96,"s":38},{"x":1087,"y":757,"a":1100,"b":769,"d":47,"s":22},{"x":1087,"y":736,"a":1087,"b":756,"d":0,"s":25},{"x":1063,"y":736,"a":1083,"b":741,"d":77,"s":12},{"x":1075,"y":721,"a":1088,"b":710,"d":127,"s":12},
{"x":713,"y":736,"a":729,"b":725,"d":123,"s":22},{"x":739,"y":736,"a":755,"b":725,"d":123,"s":22},{"x":764,"y":736,"a":781,"b":725,"d":122,"s":22},{"x":789,"y":736,"a":810,"b":726,"d":114,"s":40},{"x":812,"y":736,"a":839,"b":724,"d":113,"s":55},{"x":838,"y":736,"a":864,"b":725,"d":112,"s":50},{"x":863,"y":736,"a":886,"b":731,"d":101,"s":35},{"x":888,"y":736,"a":910,"b":731,"d":102,"s":45},{"x":913,"y":736,"a":930,"b":725,"d":121,"s":25},
{"x":713,"y":710,"a":729,"b":700,"d":120,"s":20},{"x":739,"y":710,"a":756,"b":700,"d":118,"s":20},{"x":764,"y":710,"a":781,"b":702,"d":112,"s":18},{"x":789,"y":710,"a":806,"b":709,"d":93,"s":22},{"x":812,"y":710,"a":833,"b":710,"d":90,"s":25},{"x":838,"y":710,"a":861,"b":702,"d":108,"s":38},{"x":863,"y":710,"a":888,"b":704,"d":102,"s":38},{"x":888,"y":710,"a":911,"b":700,"d":112,"s":45},{"x":913,"y":710,"a":933,"b":700,"d":115,"s":28},{"x":936,"y":710,"a":957,"b":700,"d":114,"s":28},{"x":962,"y":710,"a":976,"b":700,"d":124,"s":25}],
"cbar":[{"l":0,"h":5,"s":2.5},{"l":5,"h":10,"s":7.5},{"l":10,"h":15,"s":12.5},{"l":15,"h":20,"s":17.5},{"l":20,"h":25,"s":22.5},{"l":25,"h":30,"s":27.5},{"l":30,"h":35,"s":32.5},{"l":35,"h":40,"s":37.5},{"l":40,"h":45,"s":42.5},{"l":45,"h":50,"s":47.5},{"l":50,"h":55,"s":52.5},{"l":55,"h":60,"s":57.5},{"l":60,"h":65,"s":62.5},{"l":65,"h":70,"s":67.5},{"l":70,"h":75,"s":72.5},{"l":75,"h":80,"s":77.5},{"l":80,"h":85,"s":82.5},{"l":85,"h":90,"s":87.5},{"l":90,"h":95,"s":92.5},{"l":95,"h":100,"s":97.5},{"l":100,"h":105,"s":102.5},{"l":105,"h":110,"s":107.5},{"l":110,"h":115,"s":112.5},{"l":115,"h":120,"s":117.5},{"l":120,"h":125,"s":122.5},{"l":125,"h":130,"s":127.5},{"l":130,"h":135,"s":132.5},{"l":135,"h":140,"s":137.5},{"l":140,"h":145,"s":142.5},{"l":145,"h":150,"s":147.5},{"l":150,"h":155,"s":152.5},{"l":155,"h":160,"s":157.5},{"l":160,"h":165,"s":162.5},{"l":165,"h":170,"s":167.5},{"l":170,"h":175,"s":172.5},{"l":175,"h":180,"s":177.5},{"l":180,"h":185,"s":182.5},{"l":185,"h":190,"s":187.5},{"l":190,"h":195,"s":192.5},{"l":195,"h":200,"s":197.5},{"l":200,"h":205,"s":202.5},{"l":205,"h":210,"s":207.5},{"l":210,"h":215,"s":212.5},{"l":215,"h":220,"s":217.5},{"l":220,"h":225,"s":222.5},{"l":225,"h":230,"s":227.5},{"l":230,"h":235,"s":232.5},{"l":235,"h":240,"s":237.5},{"l":240,"h":245,"s":242.5},{"l":245,"h":250,"s":247.5},{"l":250,"h":255,"s":252.5},{"l":255,"h":260,"s":257.5},{"l":260,"h":265,"s":262.5},{"l":265,"h":270,"s":267.5},{"l":270,"h":275,"s":272.5},{"l":275,"h":280,"s":277.5},{"l":280,"h":285,"s":282.5},{"l":285,"h":290,"s":287.5},{"l":290,"h":295,"s":292.5},{"l":295,"h":300,"s":297.5}],
"elev":[{"lo":-20,"hi":-10,"l":-15},{"lo":-10,"hi":0,"l":-5},{"lo":0,"hi":10,"l":5},{"lo":10,"hi":20,"l":15},{"lo":20,"hi":30,"l":25},{"lo":30,"hi":40,"l":35},{"lo":40,"hi":50,"l":45}]
},
"hconcat":[
{"bounds":"flush","spacing":0,"vconcat":[
{"width":290,"height":284,"title":{"text":"Average Surface during Spring","dx":-6,"offset":3},"resolve":{"axis":{"x":"independent","y":"independent"}},
"encoding":{"x":{"field":"x","type":"quantitative","scale":{"domain":[700,1100],"nice":false},"axis":null},"y":{"field":"y","type":"quantitative","scale":{"domain":[700,1100],"nice":false},"axis":null}},
"layer":[
{"data":{"name":"landA"},"mark":{"type":"line","fill":"#333333","stroke":"#333333","strokeWidth":0.5,"clip":true},"encoding":{"order":{"field":"o"},"detail":{"field":"p"}}},
{"data":{"name":"holes"},"mark":{"type":"circle","color":"white","opacity":1,"size":60}},
{"data":{"name":"holesSmall"},"mark":{"type":"circle","color":"white","opacity":1,"size":20}},
{"data":{"values":[{"x":1010,"y":991,"b":790}]},"mark":{"type":"rule","color":"black","strokeDash":[10,6]},"encoding":{"y2":{"field":"b"}}},
{"data":{"name":"arrowsA"},"mark":{"type":"rule","strokeWidth":1,"clip":true},"encoding":{"x2":{"field":"a"},"y2":{"field":"b"},"color":{"field":"s","type":"quantitative","legend":null,"scale":{"type":"linear","interpolate":"rgb","domain":[0,30,30.01,75,75.01,150,150.01,300],"range":["#ccccff","#0000ff","#99cc99","#009933","#cc99cc","#9933cc","#ff99cc","#ff0000"]}}}},
{"data":{"name":"arrowsA"},"mark":{"type":"point","filled":true,"opacity":1,"shape":"M0,0L-0.9,2.2L0.9,2.2Z","clip":true},"encoding":{"x":{"field":"a","type":"quantitative","scale":{"domain":[700,1100],"nice":false},"axis":null},"y":{"field":"b","type":"quantitative","scale":{"domain":[700,1100],"nice":false},"axis":null},"angle":{"field":"d","type":"quantitative","scale":{"domain":[0,360],"range":[0,360]}},"size":{"field":"s","type":"quantitative","legend":null,"scale":{"domain":[0,300],"range":[85,200]}},"color":{"field":"s","type":"quantitative","legend":null,"scale":{"type":"linear","interpolate":"rgb","domain":[0,30,30.01,75,75.01,150,150.01,300],"range":["#ccccff","#0000ff","#99cc99","#009933","#cc99cc","#9933cc","#ff99cc","#ff0000"]}}}},
{"data":{"values":[{"x":900,"y":787,"t":"Timor\u00a0\u00a0Island"}]},"mark":{"type":"text","font":"Liberation Sans","fontWeight":"bold","fontSize":20,"color":"white"},"encoding":{"text":{"field":"t"}}},
{"data":{"values":[{"x":700,"y":700}]},"mark":{"type":"point","opacity":0},"encoding":{"x":{"field":"x","type":"quantitative","scale":{"domain":[700,1100],"nice":false},"axis":{"orient":"bottom","values":[700,800,900,1000,1100],"title":null}},"y":{"field":"y","type":"quantitative","scale":{"domain":[700,1100],"nice":false},"axis":{"orient":"left","values":[700,800,900,1000,1100],"title":"Distance (km)","titleX":-90,"titleY":141,"titleAngle":270,"titleAlign":"center","titleBaseline":"middle"}}}},
{"data":{"values":[{"x":700,"y":700}]},"mark":{"type":"point","opacity":0},"encoding":{"x":{"field":"x","type":"quantitative","scale":{"domain":[700,1100],"nice":false},"axis":{"orient":"top","values":[700,800,900,1000,1100],"labels":false,"title":null}},"y":{"field":"y","type":"quantitative","scale":{"domain":[700,1100],"nice":false},"axis":{"orient":"right","values":[700,800,900,1000,1100],"labels":false,"title":null}}}}
]},
{"width":1,"height":105,"data":{"values":[{}]},"mark":{"type":"point","opacity":0},"encoding":{}},
{"bounds":"flush","spacing":0,"hconcat":[{"width":2,"height":1,"data":{"values":[{}]},"mark":{"type":"point","opacity":0},"encoding":{}},
{"width":290,"height":280,"title":{"text":"Average Surface after Neap Onset","offset":9},"resolve":{"axis":{"x":"independent","y":"independent"}},
"encoding":{"x":{"field":"x","type":"quantitative","scale":{"domain":[700,1100],"nice":false},"axis":null},"y":{"field":"y","type":"quantitative","scale":{"domain":[700,1100],"nice":false},"axis":null}},
"layer":[
{"data":{"name":"landA"},"mark":{"type":"line","fill":"#333333","stroke":"#333333","strokeWidth":0.5,"clip":true},"encoding":{"order":{"field":"o"},"detail":{"field":"p"}}},
{"data":{"name":"holes"},"mark":{"type":"circle","color":"white","opacity":1,"size":60}},
{"data":{"name":"holesSmall"},"mark":{"type":"circle","color":"white","opacity":1,"size":20}},
{"data":{"values":[{"x":1002,"y":971,"b":791}]},"mark":{"type":"rule","color":"#777777","strokeWidth":1.5,"strokeDash":[10,6]},"encoding":{"y2":{"field":"b"}}},
{"data":{"name":"arrowsC"},"mark":{"type":"rule","strokeWidth":1,"clip":true},"encoding":{"x2":{"field":"a"},"y2":{"field":"b"},"color":{"field":"s","type":"quantitative","legend":null,"scale":{"type":"linear","interpolate":"rgb","domain":[0,30,30.01,75,75.01,150,150.01,300],"range":["#ccccff","#0000ff","#99cc99","#009933","#cc99cc","#9933cc","#ff99cc","#ff0000"]}}}},
{"data":{"name":"arrowsC"},"mark":{"type":"point","filled":true,"opacity":1,"shape":"M0,0L-0.9,2.2L0.9,2.2Z","clip":true},"encoding":{"x":{"field":"a","type":"quantitative","scale":{"domain":[700,1100],"nice":false},"axis":null},"y":{"field":"b","type":"quantitative","scale":{"domain":[700,1100],"nice":false},"axis":null},"angle":{"field":"d","type":"quantitative","scale":{"domain":[0,360],"range":[0,360]}},"size":{"field":"s","type":"quantitative","legend":null,"scale":{"domain":[0,300],"range":[85,200]}},"color":{"field":"s","type":"quantitative","legend":null,"scale":{"type":"linear","interpolate":"rgb","domain":[0,30,30.01,75,75.01,150,150.01,300],"range":["#ccccff","#0000ff","#99cc99","#009933","#cc99cc","#9933cc","#ff99cc","#ff0000"]}}}},
{"data":{"values":[{"x":897,"y":785,"t":"Timor\u00a0\u00a0Island"}]},"mark":{"type":"text","font":"Liberation Sans","fontWeight":"bold","fontSize":20,"color":"white"},"encoding":{"text":{"field":"t"}}},
{"data":{"values":[{"x":700,"y":700}]},"mark":{"type":"point","opacity":0},"encoding":{"x":{"field":"x","type":"quantitative","scale":{"domain":[700,1100],"nice":false},"axis":{"orient":"bottom","values":[700,800,900,1000,1100],"title":"Distance (km)","titleX":138,"titleY":63,"titleAlign":"center","titleBaseline":"middle"}},"y":{"field":"y","type":"quantitative","scale":{"domain":[700,1100],"nice":false},"axis":{"orient":"left","values":[700,800,900,1000,1100],"title":"Distance (km)","titleX":-91,"titleY":137,"titleAngle":270,"titleAlign":"center","titleBaseline":"middle"}}}},
{"data":{"values":[{"x":700,"y":700}]},"mark":{"type":"point","opacity":0},"encoding":{"x":{"field":"x","type":"quantitative","scale":{"domain":[700,1100],"nice":false},"axis":{"orient":"top","values":[700,800,900,1000,1100],"labels":false,"title":null}},"y":{"field":"y","type":"quantitative","scale":{"domain":[700,1100],"nice":false},"axis":{"orient":"right","values":[700,800,900,1000,1100],"labels":false,"title":null}}}}
]}]}
]},
{"width":323,"height":1,"data":{"values":[{}]},"mark":{"type":"point","opacity":0},"encoding":{}},
{"bounds":"flush","spacing":0,"vconcat":[
{"width":1,"height":90,"data":{"values":[{}]},"mark":{"type":"point","opacity":0},"encoding":{}},
{"bounds":"flush","spacing":0,"hconcat":[{"width":60,"height":1,"data":{"values":[{}]},"mark":{"type":"point","opacity":0},"encoding":{}},
{"width":30,"height":473,"view":{"stroke":"black"},"resolve":{"axis":{"x":"independent","y":"independent"}},
"layer":[
{"data":{"name":"cbar"},"mark":{"type":"rect","strokeWidth":0.6},"encoding":{"y":{"field":"l","type":"quantitative","scale":{"domain":[0,300],"nice":false},"axis":null},"y2":{"field":"h"},"fill":{"field":"s","type":"quantitative","legend":null,"scale":{"type":"linear","interpolate":"rgb","domain":[0,30,30.01,75,75.01,150,150.01,300],"range":["#ccccff","#0000ff","#99cc99","#009933","#cc99cc","#9933cc","#ff99cc","#ff0000"]}},"stroke":{"field":"s","type":"quantitative","legend":null,"scale":{"type":"linear","interpolate":"rgb","domain":[0,30,30.01,75,75.01,150,150.01,300],"range":["#ccccff","#0000ff","#99cc99","#009933","#cc99cc","#9933cc","#ff99cc","#ff0000"]}}}},
{"data":{"values":[{"v":0}]},"mark":{"type":"point","opacity":0},"encoding":{"y":{"field":"v","type":"quantitative","scale":{"domain":[0,300],"nice":false},"axis":{"orient":"right","values":[0,20,40,60,80,100,120,140,160,180,200,220,240,260,280,300],"title":null,"domain":false,"tickSize":10,"tickColor":"#444444","labelFontSize":20,"labelPadding":4,"labelOverlap":false}}}},
{"data":{"values":[{"u":-0.2,"v":-19.5,"t":"(cm s"},{"u":2.13,"v":-19.5,"t":")"}]},"mark":{"type":"text","align":"left","baseline":"middle","font":"Liberation Sans","fontWeight":"bold","fontSize":19,"color":"black"},"encoding":{"x":{"field":"u","type":"quantitative","scale":{"domain":[0,1],"nice":false},"axis":null},"y":{"field":"v","type":"quantitative","scale":{"domain":[0,300],"nice":false},"axis":null},"text":{"field":"t"}}},
{"data":{"values":[{"u":1.57,"v":-14.5,"t":"-1"}]},"mark":{"type":"text","align":"left","baseline":"middle","font":"Liberation Sans","fontWeight":"bold","fontSize":13,"color":"black"},"encoding":{"x":{"field":"u","type":"quantitative","scale":{"domain":[0,1],"nice":false},"axis":null},"y":{"field":"v","type":"quantitative","scale":{"domain":[0,300],"nice":false},"axis":null},"text":{"field":"t"}}}
]}]},
{"width":1,"height":535,"data":{"values":[{}]},"mark":{"type":"point","opacity":0},"encoding":{}},
{"width":201,"height":90,"view":{"stroke":"black"},"encoding":{"x":{"field":"x","type":"quantitative","scale":{"domain":[0,201],"nice":false},"axis":null},"y":{"field":"y","type":"quantitative","scale":{"domain":[0,90],"nice":false},"axis":null}},
"layer":[
{"data":{"values":[{"x":64,"y":42,"a":77,"b":42,"d":90,"s":5},{"x":77,"y":42,"a":137,"b":42,"d":90,"s":300}]},"mark":{"type":"rule","strokeWidth":1},"encoding":{"x2":{"field":"a"},"y2":{"field":"b"},"color":{"field":"s","type":"quantitative","legend":null,"scale":{"type":"linear","interpolate":"rgb","domain":[0,30,30.01,75,75.01,150,150.01,300],"range":["#ccccff","#0000ff","#99cc99","#009933","#cc99cc","#9933cc","#ff99cc","#ff0000"]}}}},
{"data":{"values":[{"x":64,"y":42,"a":77,"b":42,"d":90,"s":5},{"x":77,"y":42,"a":137,"b":42,"d":90,"s":300}]},"mark":{"type":"point","filled":true,"opacity":1,"shape":"M0,0L-0.9,2.2L0.9,2.2Z"},"encoding":{"x":{"field":"a","type":"quantitative","scale":{"domain":[0,201],"nice":false},"axis":null},"y":{"field":"b","type":"quantitative","scale":{"domain":[0,90],"nice":false},"axis":null},"angle":{"field":"d","type":"quantitative","scale":{"domain":[0,360],"range":[0,360]}},"size":{"field":"s","type":"quantitative","legend":null,"scale":{"domain":[0,300],"range":[85,200]}},"color":{"field":"s","type":"quantitative","legend":null,"scale":{"type":"linear","interpolate":"rgb","domain":[0,30,30.01,75,75.01,150,150.01,300],"range":["#ccccff","#0000ff","#99cc99","#009933","#cc99cc","#9933cc","#ff99cc","#ff0000"]}}}},
{"data":{"values":[{"x":101,"y":67,"t":"Reference Vectors"}]},"mark":{"type":"text","font":"Liberation Sans","fontWeight":"bold","fontSize":20,"color":"black"},"encoding":{"text":{"field":"t"}}},
{"data":{"values":[{"x":71,"y":21,"t":"5"},{"x":106,"y":21,"t":"300"}]},"mark":{"type":"text","font":"Liberation Sans","fontWeight":"bold","fontSize":19,"color":"black"},"encoding":{"text":{"field":"t"}}}
]}
]},
{"width":268,"height":1,"data":{"values":[{}]},"mark":{"type":"point","opacity":0},"encoding":{}},
{"bounds":"flush","spacing":0,"vconcat":[
{"width":1,"height":2,"data":{"values":[{}]},"mark":{"type":"point","opacity":0},"encoding":{}},
{"bounds":"flush","spacing":0,"hconcat":[{"width":2,"height":1,"data":{"values":[{}]},"mark":{"type":"point","opacity":0},"encoding":{}},
{"width":290,"height":284,"title":{"text":"Mean Elevation during Spring","dx":-2,"offset":4},"resolve":{"axis":{"x":"independent","y":"independent"}},
"encoding":{"x":{"field":"x","type":"quantitative","scale":{"domain":[700,1100],"nice":false},"axis":null},"y":{"field":"y","type":"quantitative","scale":{"domain":[700,1100],"nice":false},"axis":null}},
"layer":[
{"data":{"name":"bandB"},"mark":{"type":"line","strokeWidth":0,"clip":true},"encoding":{"order":{"field":"o"},"detail":{"field":"p"},"fill":{"field":"l","type":"ordinal","legend":null,"scale":{"domain":[-15,-5,5,15,25,35,45],"range":["#000000","#e5e5e5","#ccccff","#cc99ff","#9933cc","#ff99ff","#ff0000"]}}}},
{"data":{"name":"landE"},"mark":{"type":"line","fill":"#000000","stroke":"#000000","strokeWidth":0.5,"clip":true},"encoding":{"order":{"field":"o"},"detail":{"field":"p"}}},
{"data":{"name":"redB"},"mark":{"type":"line","strokeWidth":0,"clip":true},"encoding":{"order":{"field":"o"},"detail":{"field":"p"},"fill":{"field":"l","type":"ordinal","legend":null,"scale":{"domain":[-15,-5,5,15,25,35,45],"range":["#000000","#e5e5e5","#ccccff","#cc99ff","#9933cc","#ff99ff","#ff0000"]}}}},
{"data":{"values":[{"x":1003,"y":987,"b":790}]},"mark":{"type":"rule","color":"black","strokeDash":[10,6]},"encoding":{"y2":{"field":"b"}}},
{"data":{"values":[{"x":896,"y":785,"t":"Timor\u00a0\u00a0Island"}]},"mark":{"type":"text","fontWeight":"bold","font":"Liberation Sans","fontSize":20,"color":"white"},"encoding":{"text":{"field":"t"}}},
{"data":{"values":[{"x":820,"y":1018,"t":"Flores Island"}]},"mark":{"type":"text","fontWeight":"bold","font":"Liberation Sans","fontSize":18,"color":"white","angle":39},"encoding":{"text":{"field":"t"}}},
{"data":{"values":[{"x":944,"y":894,"t":"Alor I."}]},"mark":{"type":"text","fontWeight":"bold","font":"Liberation Sans","fontSize":17,"color":"white","angle":40},"encoding":{"text":{"field":"t"}}},
{"data":{"values":[{"x":931,"y":862,"t":"Ombai Strait"}]},"mark":{"type":"text","fontWeight":"bold","font":"Liberation Sans","fontSize":17,"color":"black","angle":40},"encoding":{"text":{"field":"t"}}},
{"data":{"values":[{"x":1081,"y":862,"t":"Wetar"},{"x":1082,"y":835,"t":"Island"}]},"mark":{"type":"text","fontWeight":"bold","font":"Liberation Sans","fontSize":17,"color":"black"},"encoding":{"text":{"field":"t"}}},
{"data":{"values":[{"x":700,"y":700}]},"mark":{"type":"point","opacity":0},"encoding":{"x":{"field":"x","type":"quantitative","scale":{"domain":[700,1100],"nice":false},"axis":{"orient":"bottom","values":[700,800,900,1000,1100],"title":null}},"y":{"field":"y","type":"quantitative","scale":{"domain":[700,1100],"nice":false},"axis":{"orient":"left","values":[700,800,900,1000,1100],"title":null}}}},
{"data":{"values":[{"x":700,"y":700}]},"mark":{"type":"point","opacity":0},"encoding":{"x":{"field":"x","type":"quantitative","scale":{"domain":[700,1100],"nice":false},"axis":{"orient":"top","values":[700,800,900,1000,1100],"labels":false,"title":null}},"y":{"field":"y","type":"quantitative","scale":{"domain":[700,1100],"nice":false},"axis":{"orient":"right","values":[700,800,900,1000,1100],"labels":false,"title":null}}}}
]}]},
{"width":1,"height":386,"data":{"values":[{}]},"mark":{"type":"point","opacity":0},"encoding":{}},
{"width":289,"height":285,"title":{"text":"Mean Elevation after Neap Onset","offset":3},"resolve":{"axis":{"x":"independent","y":"independent"}},
"encoding":{"x":{"field":"x","type":"quantitative","scale":{"domain":[700,1100],"nice":false},"axis":null},"y":{"field":"y","type":"quantitative","scale":{"domain":[700,1100],"nice":false},"axis":null}},
"layer":[
{"data":{"name":"bandD"},"mark":{"type":"line","strokeWidth":0,"clip":true},"encoding":{"order":{"field":"o"},"detail":{"field":"p"},"fill":{"field":"l","type":"ordinal","legend":null,"scale":{"domain":[-15,-5,5,15,25,35,45],"range":["#000000","#e5e5e5","#ccccff","#cc99ff","#9933cc","#ff99ff","#ff0000"]}}}},
{"data":{"name":"landE"},"mark":{"type":"line","fill":"#000000","stroke":"#000000","strokeWidth":0.5,"clip":true},"encoding":{"order":{"field":"o"},"detail":{"field":"p"}}},
{"data":{"values":[{"x":1004,"y":989,"b":788}]},"mark":{"type":"rule","color":"#444444","strokeDash":[10,6]},"encoding":{"y2":{"field":"b"}}},
{"data":{"values":[{"x":897,"y":789,"t":"Timor\u00a0\u00a0Island"}]},"mark":{"type":"text","fontWeight":"bold","font":"Liberation Sans","fontSize":20,"color":"white"},"encoding":{"text":{"field":"t"}}},
{"data":{"values":[{"x":818,"y":1016,"t":"Flores Island"}]},"mark":{"type":"text","fontWeight":"bold","font":"Liberation Sans","fontSize":18,"color":"white","angle":39},"encoding":{"text":{"field":"t"}}},
{"data":{"values":[{"x":943,"y":892,"t":"Alor I."}]},"mark":{"type":"text","fontWeight":"bold","font":"Liberation Sans","fontSize":17,"color":"white","angle":40},"encoding":{"text":{"field":"t"}}},
{"data":{"values":[{"x":934,"y":864,"t":"Ombai Strait"}]},"mark":{"type":"text","fontWeight":"bold","font":"Liberation Sans","fontSize":17,"color":"black","angle":40},"encoding":{"text":{"field":"t"}}},
{"data":{"values":[{"x":1081,"y":863,"t":"Wetar"},{"x":1081,"y":838,"t":"Island"}]},"mark":{"type":"text","fontWeight":"bold","font":"Liberation Sans","fontSize":17,"color":"black"},"encoding":{"text":{"field":"t"}}},
{"data":{"values":[{"x":700,"y":700}]},"mark":{"type":"point","opacity":0},"encoding":{"x":{"field":"x","type":"quantitative","scale":{"domain":[700,1100],"nice":false},"axis":{"orient":"bottom","values":[700,800,900,1000,1100],"title":"Distance (km)","titleX":144,"titleY":64,"titleAlign":"center","titleBaseline":"middle"}},"y":{"field":"y","type":"quantitative","scale":{"domain":[700,1100],"nice":false},"axis":{"orient":"left","values":[700,800,900,1000,1100],"title":null}}}},
{"data":{"values":[{"x":700,"y":700}]},"mark":{"type":"point","opacity":0},"encoding":{"x":{"field":"x","type":"quantitative","scale":{"domain":[700,1100],"nice":false},"axis":{"orient":"top","values":[700,800,900,1000,1100],"labels":false,"title":null}},"y":{"field":"y","type":"quantitative","scale":{"domain":[700,1100],"nice":false},"axis":{"orient":"right","values":[700,800,900,1000,1100],"labels":false,"title":null}}}}
]}
]},
{"width":344,"height":1,"data":{"values":[{}]},"mark":{"type":"point","opacity":0},"encoding":{}},
{"bounds":"flush","spacing":0,"vconcat":[
{"width":1,"height":80,"data":{"values":[{}]},"mark":{"type":"point","opacity":0},"encoding":{}},
{"width":30,"height":473,"view":{"stroke":"black"},"resolve":{"axis":{"x":"independent","y":"independent"}},
"layer":[
{"data":{"name":"elev"},"mark":{"type":"rect","stroke":"black","strokeWidth":1},"encoding":{"y":{"field":"lo","type":"quantitative","scale":{"domain":[-20,50],"nice":false},"axis":{"orient":"right","values":[-10,0,10,20,30,40],"title":null,"domain":false,"ticks":false,"labelFontSize":19,"labelPadding":4,"labelExpr":"'' + datum.value"}},"y2":{"field":"hi"},"fill":{"field":"l","type":"ordinal","legend":null,"scale":{"domain":[-15,-5,5,15,25,35,45],"range":["#000000","#e5e5e5","#ccccff","#cc99ff","#9933cc","#ff99ff","#ff0000"]}}}},
{"data":{"values":[{"u":0.6,"v":-24,"t":"(m)"}]},"mark":{"type":"text","baseline":"middle","font":"Liberation Sans","fontWeight":"bold","fontSize":19,"color":"black"},"encoding":{"x":{"field":"u","type":"quantitative","scale":{"domain":[0,1],"nice":false},"axis":null},"y":{"field":"v","type":"quantitative","scale":{"domain":[-20,50],"nice":false},"axis":null},"text":{"field":"t"}}}
]}
]}
]}
